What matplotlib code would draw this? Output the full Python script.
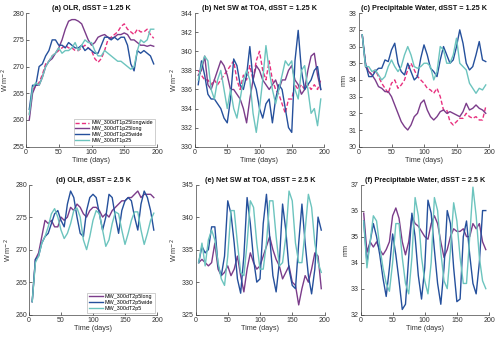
import matplotlib
matplotlib.use("Agg")
import matplotlib.pyplot as plt

plt.rcParams['font.family'] = ['Liberation Sans', 'DejaVu Sans']

days = [5, 10, 15, 20, 25, 30, 35, 40, 45, 50, 55, 60, 65, 70, 75, 80, 85, 90, 95, 100,
        105, 110, 115, 120, 125, 130, 135, 140, 145, 150, 155, 160, 165, 170, 175, 180, 185, 190, 195]

# (a) OLR, dSST = 1.25 K
olr125_longwide = [261, 265.5, 266.5, 267, 268.5, 270.5, 271, 272, 272.5, 273, 273.5, 274, 273.5, 273.5, 273, 273, 273.5, 274, 273.5, 273,
                   271.5, 270.8, 271.5, 273, 275, 275.5, 276, 276.5, 277.5, 278, 277, 276.5, 276, 277, 276.5, 276.5, 277, 276, 275.3]
olr125_long = [260, 265, 266.5, 266.5, 268, 270, 271, 271.5, 272.5, 273.5, 275, 277, 278.5, 278.8, 278.8, 278.5, 278, 276.5, 275, 274,
               274.5, 275.5, 275.8, 276, 275.5, 275.3, 275.5, 276, 276, 276.3, 276, 275, 275, 274.5, 274, 274, 273.8, 274, 273.8]
olr125_wide = [262, 266.5, 266.5, 270, 270.5, 272, 273, 275, 275, 274, 274, 273.5, 274.5, 274, 273.5, 273.5, 274, 273, 273.5, 273,
               272.5, 272.5, 274, 275.5, 275.5, 275, 275.5, 275, 275.5, 275.5, 274, 270.5, 269.2, 273, 272.5, 273, 272.5, 272, 270.5]
olr125_ctl = [261, 266, 267, 266.5, 268, 270, 271, 272, 272.5, 273.5, 272.5, 273, 273, 273.5, 274.5, 273, 274, 275, 274.5, 274.5,
              273, 272, 272, 273, 272.5, 272, 271.5, 271, 271, 270.5, 270, 269.5, 270, 273, 275, 274.5, 275, 277, 277]

# (b) Net SW at TOA, dSST = 1.25 K
sw125_longwide = [338, 337.5, 337, 337, 336.5, 337, 336.5, 337, 337.5, 338, 338.5, 339, 337, 336, 337.5, 337, 338.5, 337, 339, 340,
                  338, 337, 339, 337, 336, 335.5, 334.5, 333.5, 335, 335, 336.5, 336, 336.5, 336, 336.5, 336, 336.5, 336, 337]
sw125_long = [337.5, 338, 339.5, 336.5, 336, 337, 338, 339, 338.5, 337.5, 336, 336, 335.5, 335, 334, 332.5, 335, 337, 338.5, 338,
              337, 336.5, 336, 336.5, 337, 336, 337, 337, 338, 338.5, 337, 336.5, 335.5, 336, 338, 339.5, 339.8, 337.5, 336]
sw125_wide = [336.5, 339, 337.5, 335.5, 335, 335, 334.5, 334, 333, 332.5, 335, 339.2, 338.5, 336.5, 336, 337.5, 340.5, 337, 336, 334,
              333, 334.5, 335, 332.5, 335, 336.5, 336, 334, 332, 331.5, 339, 342.2, 338, 336, 336.5, 337, 338, 338.4, 336]
sw125_ctl = [337, 338.5, 339.5, 339, 336, 335, 337, 338, 336, 334, 336, 334, 333, 335, 337, 338, 337, 333.5, 331.5, 334,
             337, 340.6, 338, 336, 334.5, 336, 337.5, 339, 338.5, 339, 336, 335, 338, 338.5, 336, 333.5, 334, 332.2, 335]

# (c) Precipitable Water, dSST = 1.25 K
pw125_longwide = [36.7, 35, 34.5, 34.3, 34.6, 34.2, 33.8, 33.5, 33.2, 33.8, 34, 33.5, 33.7, 34, 34.6, 35, 34.6, 34.2, 34, 33.8,
                  33.5, 33.4, 33.2, 33.5, 33, 32.2, 32.2, 31.5, 31.3, 31.5, 31.7, 31.7, 32, 31.8, 31.7, 31.8, 31.6, 31.6, 32.4]
pw125_long = [36.7, 34.8, 34.5, 34.3, 34, 33.6, 33.5, 33.3, 33.3, 33, 32.5, 32, 31.5, 31.2, 31, 31.3, 31.8, 32, 32.6, 32.8,
              32.2, 31.8, 31.6, 31.8, 32.1, 32.2, 32, 32.1, 32, 31.9, 31.8, 32.1, 32.6, 32.2, 32.3, 32.5, 32.3, 32.2, 32]
pw125_wide = [36.7, 35, 34.2, 34.2, 34.5, 34.7, 34.7, 35.2, 35.1, 35.8, 36.2, 35, 34.5, 34.3, 35, 34.5, 34, 34.2, 35.3, 36.1,
              35.5, 34.7, 34.5, 34.2, 35.2, 36, 35.5, 35, 35.2, 36, 37, 36.2, 35, 34.6, 34.8, 35.5, 36.3, 35.2, 35.1]
pw125_ctl = [36.7, 34.8, 34.8, 34.5, 34.6, 34.3, 34, 34.2, 34.8, 35.2, 34.8, 34.5, 34.8, 35.5, 36, 35.5, 34.8, 34.7, 34.8, 35,
             35, 34.8, 34, 34.5, 36, 35.8, 35, 35, 35.5, 36.5, 35, 34.8, 34.6, 33.8, 33.5, 33.2, 33.5, 33.4, 33.7]

# (d) OLR, dSST = 2.5 K
olr25_long = [262, 268.5, 269.5, 272, 274.5, 274, 274.5, 273.5, 273.5, 275, 274.5, 275, 276.5, 276, 277, 276.5, 275.5, 275, 276, 276.5,
              276.5, 276, 275, 275.5, 275, 276, 276.5, 277, 277.5, 277.5, 278, 278, 278.5, 279, 278, 278.5, 278.5, 278.5, 278]
olr25_wide = [262, 268.5, 269, 271, 272, 272.5, 274, 275.5, 276, 274.5, 273.5, 277, 279, 278, 275, 272.5, 272, 276, 278, 278.5,
              278, 275.5, 273, 275, 278.5, 278, 275, 272.5, 276, 277.5, 278, 277.5, 275, 273, 277, 279, 278, 276, 273]
olr25_ctl = [262, 268, 269, 271, 272, 273.5, 275.5, 276.3, 275, 273, 271.7, 272.5, 274, 276, 276.4, 275, 271.5, 270, 272, 274.5,
             276, 275.5, 273, 270.5, 271.5, 274, 275.8, 275.5, 273, 270.8, 272.5, 274.5, 275.8, 275.8, 273, 270.8, 272.5, 274.5, 275.6]

# (e) Net SW at TOA, dSST = 2.5 K
sw25_long = [333, 333.5, 333, 332.5, 333, 336, 332, 331, 331.5, 332.5, 331, 332, 334, 331, 328.5, 332, 334.5, 333, 332, 332.5,
             334, 335.5, 337, 335, 333.5, 332.5, 330.5, 331.5, 332.5, 330, 329.5, 326.5, 329, 331, 330, 332, 334.5, 334, 329]
sw25_wide = [333, 335.5, 334.5, 335, 338.5, 338.5, 332.5, 331, 334, 342.5, 340.5, 336, 330.5, 328.3, 334, 343, 339, 333.5, 330, 330.5,
             339, 343.5, 337, 331, 328.5, 333, 342, 338, 332, 329.5, 329, 336, 342, 336, 331, 328.2, 332, 340, 338]
sw25_ctl = [333, 336, 332.5, 336.5, 338, 336.5, 333, 330.5, 329.5, 334, 341, 341, 336, 331.5, 331, 336, 342.5, 341.5, 336, 332,
            332, 336, 342.5, 342.5, 337, 332.5, 333, 337, 344, 342.5, 336, 333, 333, 338, 343.5, 341.5, 336, 333, 331.5]

# (f) Precipitable Water, dSST = 2.5 K
pw25_long = [35.9, 34.4, 34.8, 34.6, 34.8, 34.5, 34.3, 34.5, 34.8, 35.8, 36.1, 35.7, 34.8, 34.3, 34.8, 35.8, 35.5, 35.4, 35.2, 35,
             34.9, 35.5, 35.8, 35.5, 34.8, 34.2, 34.5, 35, 35.3, 35.2, 35.2, 35.3, 35, 35, 35.5, 35.3, 35.5, 34.8, 34.5]
pw25_wide = [35.6, 34, 34.8, 35.5, 35, 34.3, 33.4, 32.7, 33.8, 35.1, 34.3, 33.3, 32.2, 32.4, 34.2, 35.9, 35, 33.5, 32.6, 33.8,
             36.4, 35.9, 34.5, 33.2, 32.4, 33.8, 36, 35.5, 33.8, 32.5, 32.6, 35, 35.6, 34.3, 33.2, 32.8, 34, 36, 36]
pw25_ctl = [35.6, 33.8, 34.8, 35.8, 35.6, 34.6, 33.8, 33.2, 32.9, 34, 35.5, 35.5, 34.2, 33.2, 32.8, 34.2, 36.5, 35.8, 34.2, 33.3,
            32.8, 34, 36.5, 36, 34.4, 33.3, 33, 34.5, 36.3, 35.6, 34.2, 33.2, 33.2, 35, 36.9, 35.8, 34.2, 33.3, 33]

names125 = ['MW_300dT1p25longwide', 'MW_300dT1p25long', 'MW_300dT1p25wide', 'MW_300dT1p25']
names25 = ['MW_300dT2p5long', 'MW_300dT2p5wide', 'MW_300dT2p5']

c_pink = '#e8317f'
c_purple = '#7b3c8a'
c_blue = '#25509c'
c_teal = '#6cc4be'

fig = plt.figure(figsize=(5.0, 3.38), dpi=100)

boxes = [
    [0.052, 0.566, 0.262, 0.395],
    [0.390, 0.566, 0.258, 0.395],
    [0.718, 0.566, 0.260, 0.395],
    [0.058, 0.069, 0.256, 0.385],
    [0.391, 0.069, 0.258, 0.385],
    [0.721, 0.069, 0.257, 0.385],
]

panels = [
    ('(a) OLR, dSST = 1.25 K', [olr125_longwide, olr125_long, olr125_wide, olr125_ctl], (255, 280), [255, 260, 265, 270, 275, 280], 'W m$^{-2}$', names125),
    ('(b) Net SW at TOA, dSST = 1.25 K', [sw125_longwide, sw125_long, sw125_wide, sw125_ctl], (330, 344), [330, 332, 334, 336, 338, 340, 342, 344], 'W m$^{-2}$', None),
    ('(c) Precipitable Water, dSST = 1.25 K', [pw125_longwide, pw125_long, pw125_wide, pw125_ctl], (30, 38), [30, 31, 32, 33, 34, 35, 36, 37, 38], 'mm', None),
    ('(d) OLR, dSST = 2.5 K', [olr25_long, olr25_wide, olr25_ctl], (260, 280), [260, 265, 270, 275, 280], 'W m$^{-2}$', names25),
    ('(e) Net SW at TOA, dSST = 2.5 K', [sw25_long, sw25_wide, sw25_ctl], (325, 345), [325, 330, 335, 340, 345], 'W m$^{-2}$', None),
    ('(f) Precipitable Water, dSST = 2.5 K', [pw25_long, pw25_wide, pw25_ctl], (32, 37), [32, 33, 34, 35, 36, 37], 'mm', None),
]

for box, (title, series, ylim, yticks, ylabel, names) in zip(boxes, panels):
    ax = fig.add_axes(box)
    if len(series) == 4:
        styles = [(c_pink, (0, (3.0, 1.6))), (c_purple, '-'), (c_blue, '-'), (c_teal, '-')]
    else:
        styles = [(c_purple, '-'), (c_blue, '-'), (c_teal, '-')]
    lines = []
    for i, (vals, (col, ls)) in enumerate(zip(series, styles)):
        ln, = ax.plot(days, vals, color=col, linestyle=ls, lw=1.0)
        lines.append(ln)
    ax.set_xlim(0, 200)
    ax.set_ylim(*ylim)
    ax.set_xticks([0, 50, 100, 150, 200])
    ax.set_yticks(yticks)
    ax.set_title(title, fontsize=5.2, fontweight='bold', pad=2, color='#111111')
    ax.set_xlabel('Time (days)', fontsize=5.2, labelpad=1, color='#333333')
    ax.set_ylabel(ylabel, fontsize=5.2, labelpad=1, color='#333333')
    for s in ['top', 'right']:
        ax.spines[s].set_visible(False)
    for s in ['left', 'bottom']:
        ax.spines[s].set_color('#444444')
        ax.spines[s].set_linewidth(0.5)
    ax.tick_params(direction='in', length=2, width=0.5, labelsize=5, colors='#333333', pad=1.5)
    if names is not None:
        leg = ax.legend(lines, names, loc='lower right', fontsize=3.9, handlelength=2.6,
                        borderaxespad=0.4, labelspacing=0.15, handletextpad=0.4,
                        borderpad=0.3, fancybox=False, framealpha=1)
        leg.get_frame().set_edgecolor('#aaaaaa')
        leg.get_frame().set_linewidth(0.4)

fig.savefig('out.png', dpi=100)
